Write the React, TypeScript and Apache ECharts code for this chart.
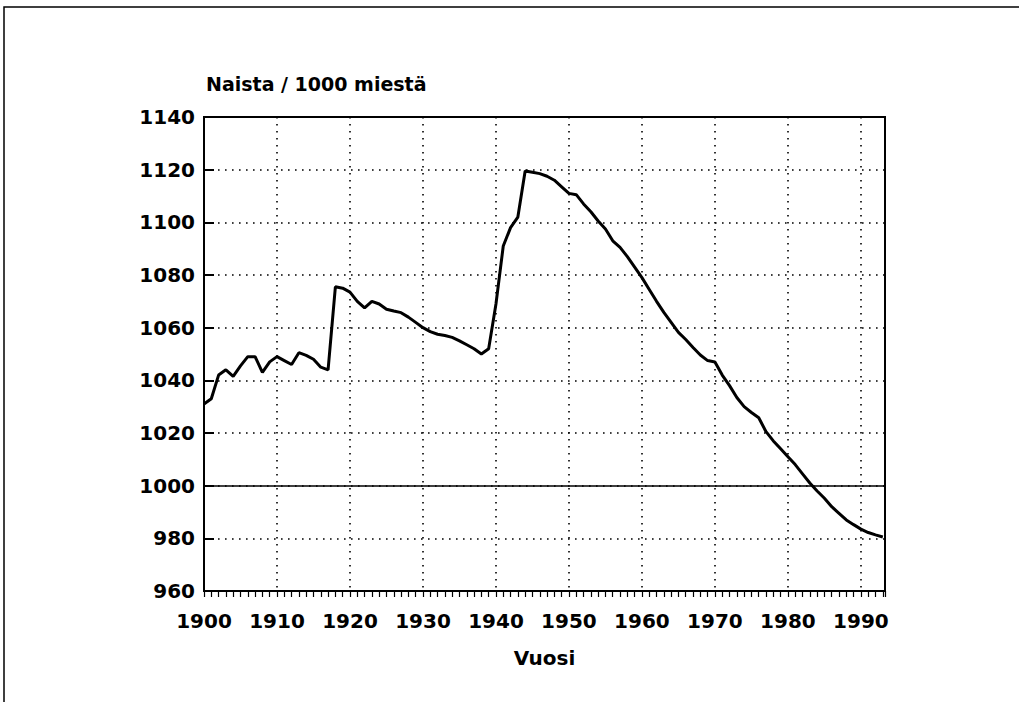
import React, { useEffect, useRef } from "react";
import * as echarts from "echarts";

const years: number[] = [
  1900, 1901, 1902, 1903, 1904, 1905, 1906, 1907, 1908, 1909,
  1910, 1911, 1912, 1913, 1914, 1915, 1916, 1917, 1918, 1919,
  1920, 1921, 1922, 1923, 1924, 1925, 1926, 1927, 1928, 1929,
  1930, 1931, 1932, 1933, 1934, 1935, 1936, 1937, 1938, 1939,
  1940, 1941, 1942, 1943, 1944, 1945, 1946, 1947, 1948, 1949,
  1950, 1951, 1952, 1953, 1954, 1955, 1956, 1957, 1958, 1959,
  1960, 1961, 1962, 1963, 1964, 1965, 1966, 1967, 1968, 1969,
  1970, 1971, 1972, 1973, 1974, 1975, 1976, 1977, 1978, 1979,
  1980, 1981, 1982, 1983, 1984, 1985, 1986, 1987, 1988, 1989,
  1990, 1991, 1992, 1993,
];

const womenPer1000Men: number[] = [
  1031, 1033, 1042, 1044, 1041.5, 1045.5, 1049, 1049, 1043, 1047,
  1049, 1047.5, 1046, 1050.5, 1049.5, 1048, 1045, 1044, 1075.5, 1075,
  1073.5, 1070, 1067.5, 1070, 1069, 1067, 1066.3, 1065.7, 1064, 1062,
  1060, 1058.5, 1057.5, 1057, 1056.3, 1055, 1053.5, 1052, 1050, 1052,
  1069, 1091, 1098, 1102, 1119.5, 1119, 1118.5, 1117.5, 1116, 1113.5,
  1111, 1110.5, 1107, 1104, 1100.5, 1097.5, 1093, 1090.5, 1087, 1083,
  1079, 1074.5, 1070, 1065.8, 1062, 1058.2, 1055.5, 1052.5, 1049.6, 1047.5,
  1047, 1042, 1038, 1033.5, 1030, 1027.8, 1025.8, 1020.5, 1017, 1014,
  1011, 1008, 1004.5, 1001, 998, 995.2, 992, 989.5, 987, 985.2,
  983.5, 982.2, 981.3, 980.5,
];

const referenceValue = 1000;
const yTitle = "Naista / 1000 miestä";
const xTitle = "Vuosi";

const FONT = "DejaVu Sans";
const FS = 20;

export default function App() {
  const ref = useRef<HTMLDivElement>(null);

  useEffect(() => {
    if (!ref.current) return;
    const chart = echarts.init(ref.current, undefined, { renderer: "svg" });
    const dotted = { color: "#000", width: 1.6, type: [1.6, 5.4] as number[] };
    chart.setOption({
      animation: false,
      backgroundColor: "#fff",
      grid: {
        left: 204,
        right: 134,
        top: 117,
        bottom: 111,
        show: true,
        borderColor: "#000",
        borderWidth: 2,
        backgroundColor: "transparent",
      },
      graphic: [
        {
          type: "rect",
          shape: { x: 4, y: 7, width: 1100, height: 800 },
          style: { fill: "none", stroke: "#000", lineWidth: 1.5 },
          silent: true,
        },
        {
          type: "text",
          x: 206,
          y: 84,
          style: {
            text: yTitle,
            font: `bold 19px "${FONT}"`,
            fill: "#000",
            textVerticalAlign: "middle",
            textAlign: "left",
          },
        },
      ],
      xAxis: [
        {
          type: "value",
          min: 1900,
          max: 1993.3,
          interval: 1,
          position: "bottom",
          axisLine: { show: true, lineStyle: { color: "#000", width: 2 } },
          axisTick: { show: true, inside: false, length: 6, lineStyle: { color: "#000", width: 1.2 } },
          axisLabel: { show: false },
          splitLine: { show: false },
        },
        {
          type: "value",
          min: 1900,
          max: 1993.3,
          interval: 10,
          position: "bottom",
          axisLine: { show: false },
          axisTick: { show: false },
          axisLabel: {
            show: true,
            margin: 20,
            color: "#000",
            fontSize: FS,
            fontWeight: "bold",
            fontFamily: FONT,
            formatter: (v: number) => (Math.abs(v % 10) < 1e-6 ? String(v) : ""),
          },
          splitLine: { show: true, showMinLine: false, showMaxLine: false, lineStyle: dotted },
          name: xTitle,
          nameLocation: "middle",
          nameGap: 57,
          nameTextStyle: { color: "#000", fontSize: FS, fontWeight: "bold", fontFamily: FONT },
        },
      ],
      yAxis: {
        type: "value",
        min: 960,
        max: 1140,
        interval: 20,
        axisLine: { show: true, lineStyle: { color: "#000", width: 2 } },
        axisTick: { show: true, inside: true, length: 10, lineStyle: { color: "#000", width: 2 } },
        axisLabel: {
          margin: 9,
          color: "#000",
          fontSize: FS,
          fontWeight: "bold",
          fontFamily: FONT,
          formatter: (v: number) => String(v),
        },
        splitLine: { show: true, showMinLine: false, showMaxLine: false, lineStyle: dotted },
      },
      series: [
        {
          type: "line",
          xAxisIndex: 0,
          data: years.map((y, i) => [y, womenPer1000Men[i]]),
          showSymbol: false,
          symbol: "none",
          lineStyle: { color: "#000", width: 3 },
          markLine: {
            silent: true,
            symbol: "none",
            label: { show: false },
            lineStyle: { color: "#000", width: 1.5, type: "solid" },
            data: [{ yAxis: referenceValue }],
          },
          z: 3,
        },
      ],
    });
    return () => chart.dispose();
  }, []);

  return (
    <div
      ref={ref}
      style={{ position: "fixed", left: 0, top: 0, width: 1019, height: 702, background: "#fff" }}
    />
  );
}
